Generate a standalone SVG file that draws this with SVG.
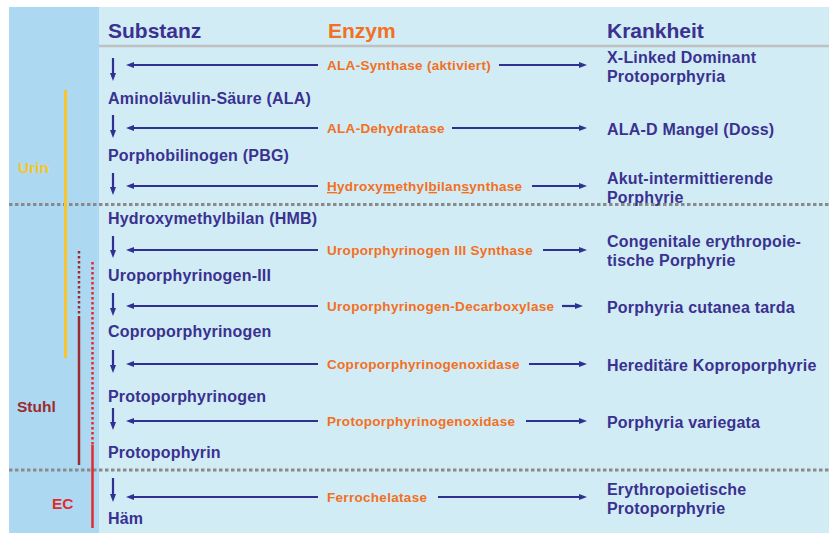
<svg xmlns="http://www.w3.org/2000/svg" width="829" height="533" viewBox="0 0 829 533">
<style>
.hd{font-family:"Liberation Sans",Arial,sans-serif;font-weight:bold;font-size:21px}
.sub{font-family:"Liberation Sans",Arial,sans-serif;font-weight:bold;font-size:16px;letter-spacing:0.2px;fill:#3a3190}
.dis{font-family:"Liberation Sans",Arial,sans-serif;font-weight:bold;font-size:16px;letter-spacing:0.2px;fill:#3a3190}
.enz{font-family:"Liberation Sans",Arial,sans-serif;font-weight:bold;font-size:13.5px;letter-spacing:0.3px;fill:#f36f21}
.lab{font-family:"Liberation Sans",Arial,sans-serif;font-weight:bold;font-size:15.5px}
.arr{stroke:#2e3192;stroke-width:2.2;fill:none;marker-end:url(#ah)}
.sep{stroke:#8a8a8a;stroke-width:3;stroke-dasharray:3.5 2.5;fill:none}
</style>
<defs>
<marker id="ah" viewBox="0 0 8 6" refX="3" refY="3" markerWidth="8" markerHeight="6.5" orient="auto" markerUnits="userSpaceOnUse">
<path d="M0,0 L8,3 L0,6 z" fill="#2e3192"/>
</marker>
</defs>
<g id="background">
<rect x="9" y="7" width="90" height="526" fill="#acd9f1"/>
<rect x="99" y="7" width="730" height="526" fill="#d1ecf5"/>
<line x1="99" y1="46" x2="829" y2="46" stroke="#c0c0c0" stroke-width="2.5"/>
<line x1="9" y1="204.5" x2="829" y2="204.5" class="sep"/>
<line x1="9" y1="470" x2="829" y2="470" class="sep"/>
</g>
<g id="side-bars">
<line x1="65.5" y1="90" x2="65.5" y2="358" stroke="#f8c52a" stroke-width="3"/>
<line x1="79" y1="251" x2="79" y2="318" stroke="#9c2a2e" stroke-width="2.5" stroke-dasharray="2.5 2.5"/>
<line x1="79" y1="318" x2="79" y2="465" stroke="#9c2a2e" stroke-width="2.5"/>
<line x1="92.5" y1="262" x2="92.5" y2="445" stroke="#e42a2f" stroke-width="2.5" stroke-dasharray="2.5 2.5"/>
<line x1="92.5" y1="445" x2="92.5" y2="528" stroke="#e42a2f" stroke-width="2.5"/>
<text id="urin" x="18" y="173" class="lab" fill="#f8c52a">Urin</text>
<text id="stuhl" x="17" y="412" class="lab" fill="#9c2a2e">Stuhl</text>
<text id="ec" x="52" y="509" class="lab" fill="#e42a2f">EC</text>
</g>
<g id="headers">
<text x="108" y="38" class="hd" fill="#3a3190">Substanz</text>
<text x="328" y="38" class="hd" fill="#f36f21">Enzym</text>
<text x="607" y="38" class="hd" fill="#3a3190">Krankheit</text>
</g>
<g id="substances">
<text id="s-ala" x="108" y="104" class="sub">Aminolävulin-Säure (ALA)</text>
<text id="s-pbg" x="108" y="161" class="sub">Porphobilinogen (PBG)</text>
<text id="s-hmb" x="108" y="224" class="sub">Hydroxymethylbilan (HMB)</text>
<text id="s-uro" x="108" y="281" class="sub">Uroporphyrinogen-III</text>
<text id="s-copro" x="108" y="337" class="sub">Coproporphyrinogen</text>
<text id="s-protogen" x="108" y="402" class="sub">Protoporphyrinogen</text>
<text id="s-proto" x="108" y="458" class="sub">Protopophyrin</text>
<text id="s-haem" x="108" y="524" class="sub">Häm</text>
</g>
<g id="enzymes">
<text id="e1" x="327" y="70" class="enz">ALA-Synthase (aktiviert)</text>
<text id="e2" x="327" y="133" class="enz">ALA-Dehydratase</text>
<text id="e3" x="327" y="191" class="enz"><tspan text-decoration="underline">H</tspan>ydroxy<tspan text-decoration="underline">m</tspan>ethyl<tspan text-decoration="underline">b</tspan>ilan<tspan text-decoration="underline">s</tspan>ynthase</text>
<text id="e4" x="327" y="255" class="enz">Uroporphyrinogen III Synthase</text>
<text id="e5" x="327" y="311" class="enz">Uroporphyrinogen-Decarboxylase</text>
<text id="e6" x="327" y="369" class="enz">Coproporphyrinogenoxidase</text>
<text id="e7" x="327" y="426" class="enz">Protoporphyrinogenoxidase</text>
<text id="e8" x="327" y="502" class="enz">Ferrochelatase</text>
</g>
<g id="diseases">
<text id="d1" class="dis"><tspan x="607" y="63">X-Linked Dominant</tspan><tspan x="607" y="82">Protoporphyria</tspan></text>
<text id="d2" x="607" y="135" class="dis">ALA-D Mangel (Doss)</text>
<text id="d3" class="dis"><tspan x="607" y="184">Akut-intermittierende</tspan><tspan x="607" y="203">Porphyrie</tspan></text>
<text id="d4" class="dis"><tspan x="607" y="247">Congenitale erythropoie-</tspan><tspan x="607" y="266">tische Porphyrie</tspan></text>
<text id="d5" x="607" y="313" class="dis">Porphyria cutanea tarda</text>
<text id="d6" x="607" y="371" class="dis">Hereditäre Koproporphyrie</text>
<text id="d7" x="607" y="428" class="dis">Porphyria variegata</text>
<text id="d8" class="dis"><tspan x="607" y="495">Erythropoietische</tspan><tspan x="607" y="514">Protoporphyrie</tspan></text>
</g>
<g id="connectors">
<line x1="113" y1="58" x2="113" y2="76" class="arr"/>
<line x1="113" y1="115" x2="113" y2="133" class="arr"/>
<line x1="113" y1="173" x2="113" y2="190" class="arr"/>
<line x1="113" y1="236" x2="113" y2="253" class="arr"/>
<line x1="113" y1="293" x2="113" y2="311" class="arr"/>
<line x1="113" y1="350" x2="113" y2="368" class="arr"/>
<line x1="113" y1="408" x2="113" y2="425" class="arr"/>
<line x1="113" y1="478" x2="113" y2="497" class="arr"/>
<line x1="318" y1="65" x2="131" y2="65" class="arr"/>
<line x1="318" y1="128" x2="131" y2="128" class="arr"/>
<line x1="318" y1="186" x2="131" y2="186" class="arr"/>
<line x1="318" y1="250" x2="131" y2="250" class="arr"/>
<line x1="318" y1="306" x2="131" y2="306" class="arr"/>
<line x1="318" y1="364" x2="131" y2="364" class="arr"/>
<line x1="318" y1="421" x2="131" y2="421" class="arr"/>
<line x1="318" y1="497" x2="131" y2="497" class="arr"/>
<line x1="499" y1="65" x2="582" y2="65" class="arr"/>
<line x1="452" y1="128" x2="582" y2="128" class="arr"/>
<line x1="532" y1="186" x2="582" y2="186" class="arr"/>
<line x1="543" y1="250" x2="582" y2="250" class="arr"/>
<line x1="562" y1="306" x2="578" y2="306" class="arr"/>
<line x1="529" y1="364" x2="582" y2="364" class="arr"/>
<line x1="526" y1="421" x2="582" y2="421" class="arr"/>
<line x1="438" y1="497" x2="582" y2="497" class="arr"/>
</g>
</svg>
